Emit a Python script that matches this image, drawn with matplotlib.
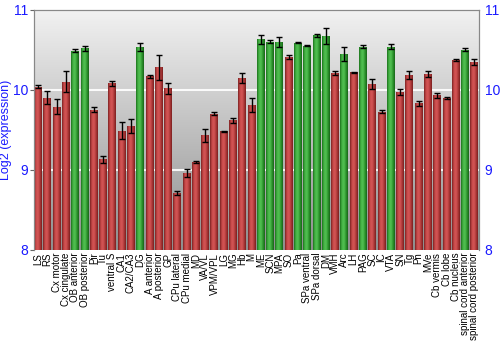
import numpy as np
import matplotlib.pyplot as plt
from matplotlib.colors import LinearSegmentedColormap

regions = ["LS", "RS", "Cx motor", "Cx cingulate", "OB anterior", "OB posterior",
           "Pir", "Tu", "ventral S", "CA1", "CA2/CA3", "DG", "A anterior",
           "A posterior", "GP", "CPu lateral", "CPu medial", "MD", "VA/VL",
           "VPM/VPL", "LG", "MG", "Hb", "M", "ME", "SCN", "MPA", "SO", "Pa",
           "SPa ventral", "SPa dorsal", "DM", "VMH", "Arc", "LH", "PAG", "SC",
           "IC", "VTA", "SN", "Tg", "Pn", "MVe", "Cb vermis", "Cb lobe",
           "Cb nucleus", "spinal cord anterior", "spinal cord posterior"]

expr = [10.04, 9.90, 9.79, 10.10, 10.49, 10.52,
        9.75, 9.13, 10.08, 9.49, 9.55, 10.54, 10.17,
        10.28, 10.02, 8.71, 8.96, 9.10, 9.43,
        9.70, 9.48, 9.62, 10.15, 9.81, 10.63, 10.60, 10.60, 10.41, 10.59,
        10.55, 10.68, 10.67, 10.21, 10.45, 10.22, 10.54, 10.07,
        9.725, 10.54, 9.97, 10.19, 9.83, 10.20, 9.93, 9.90,
        10.375, 10.50, 10.35]

err = [0.02, 0.08, 0.09, 0.13, 0.02, 0.03,
       0.03, 0.04, 0.03, 0.11, 0.09, 0.05, 0.02,
       0.16, 0.07, 0.02, 0.05, 0.01, 0.08,
       0.02, 0.01, 0.03, 0.06, 0.09, 0.06, 0.02, 0.06, 0.02, 0.005,
       0.005, 0.02, 0.10, 0.03, 0.09, 0.005, 0.02, 0.06,
       0.02, 0.03, 0.04, 0.05, 0.03, 0.04, 0.03, 0.01,
       0.01, 0.02, 0.04]

# regions flagged as enriched (drawn green)
enriched = ["OB anterior", "OB posterior", "DG", "ME", "SCN", "MPA", "Pa",
            "SPa ventral", "SPa dorsal", "DM", "Arc", "PAG", "VTA",
            "spinal cord anterior"]

plt.rcParams['font.family'] = ['Liberation Sans', 'DejaVu Sans']
blue = '#1a1aff'

red_cm = LinearSegmentedColormap.from_list(
    "redbar", ["#7c2222", "#c84a4a", "#d45656", "#b03a3a", "#7a2020"])
green_cm = LinearSegmentedColormap.from_list(
    "greenbar", ["#1c721c", "#46b446", "#52c052", "#2e962e", "#186418"])
bg_cm = LinearSegmentedColormap.from_list("bg", ["#f2f2f2", "#8e8e8e"])

fig = plt.figure(figsize=(5, 3.5), dpi=100)
ax = fig.add_axes([0.067, 0.286, 0.891, 0.686])

ymin, ymax = 8, 11
x = np.arange(len(regions))
ax.set_xlim(-0.5, len(regions) - 0.5)
ax.set_ylim(ymin, ymax)

# vertical grey gradient behind everything (row 0 = top)
ax.imshow(np.linspace(0, 1, 256).reshape(-1, 1), cmap=bg_cm, aspect='auto',
          origin='upper', extent=(-0.5, len(regions) - 0.5, ymin, ymax),
          zorder=0)
for g in [9, 10]:
    ax.axhline(g, color='white', lw=1.5, alpha=0.9, zorder=1)

bw = 0.86
grad = np.linspace(0, 1, 64).reshape(1, -1)
bars = ax.bar(x, np.array(expr) - ymin, bottom=ymin, width=bw,
              color='none', edgecolor='none', zorder=2)
for i, b in enumerate(bars):
    cm = green_cm if regions[i] in enriched else red_cm
    im = ax.imshow(grad, cmap=cm, aspect='auto', zorder=2,
                   extent=(x[i] - bw / 2, x[i] + bw / 2, ymin, expr[i]))
    im.set_clip_path(b)

ax.errorbar(x, expr, yerr=err, fmt='none', ecolor='black', elinewidth=1,
            capsize=2, capthick=1, zorder=3)

ax.set_xticks(x)
ax.set_xticklabels(regions, rotation=90, fontsize=7)
ax.tick_params(axis='x', length=0, pad=2)

ax.set_yticks([8, 9, 10, 11])
ax.tick_params(axis='y', colors='#666666', labelcolor=blue,
               labelsize=10, length=3, pad=1, direction='out')
ax.set_ylabel("Log2 (expression)", color=blue, fontsize=9, va='center')
ax.yaxis.set_label_coords(-0.061, 0.5)

ax2 = ax.twinx()
ax2.set_ylim(ymin, ymax)
ax2.set_yticks([8, 9, 10, 11])
ax2.tick_params(axis='y', labelcolor=blue, labelsize=10, length=0, pad=4)

for a in (ax, ax2):
    for s in a.spines.values():
        s.set_color('#888888')
    a.spines['bottom'].set_visible(False)

fig.savefig("out.png", dpi=100)
